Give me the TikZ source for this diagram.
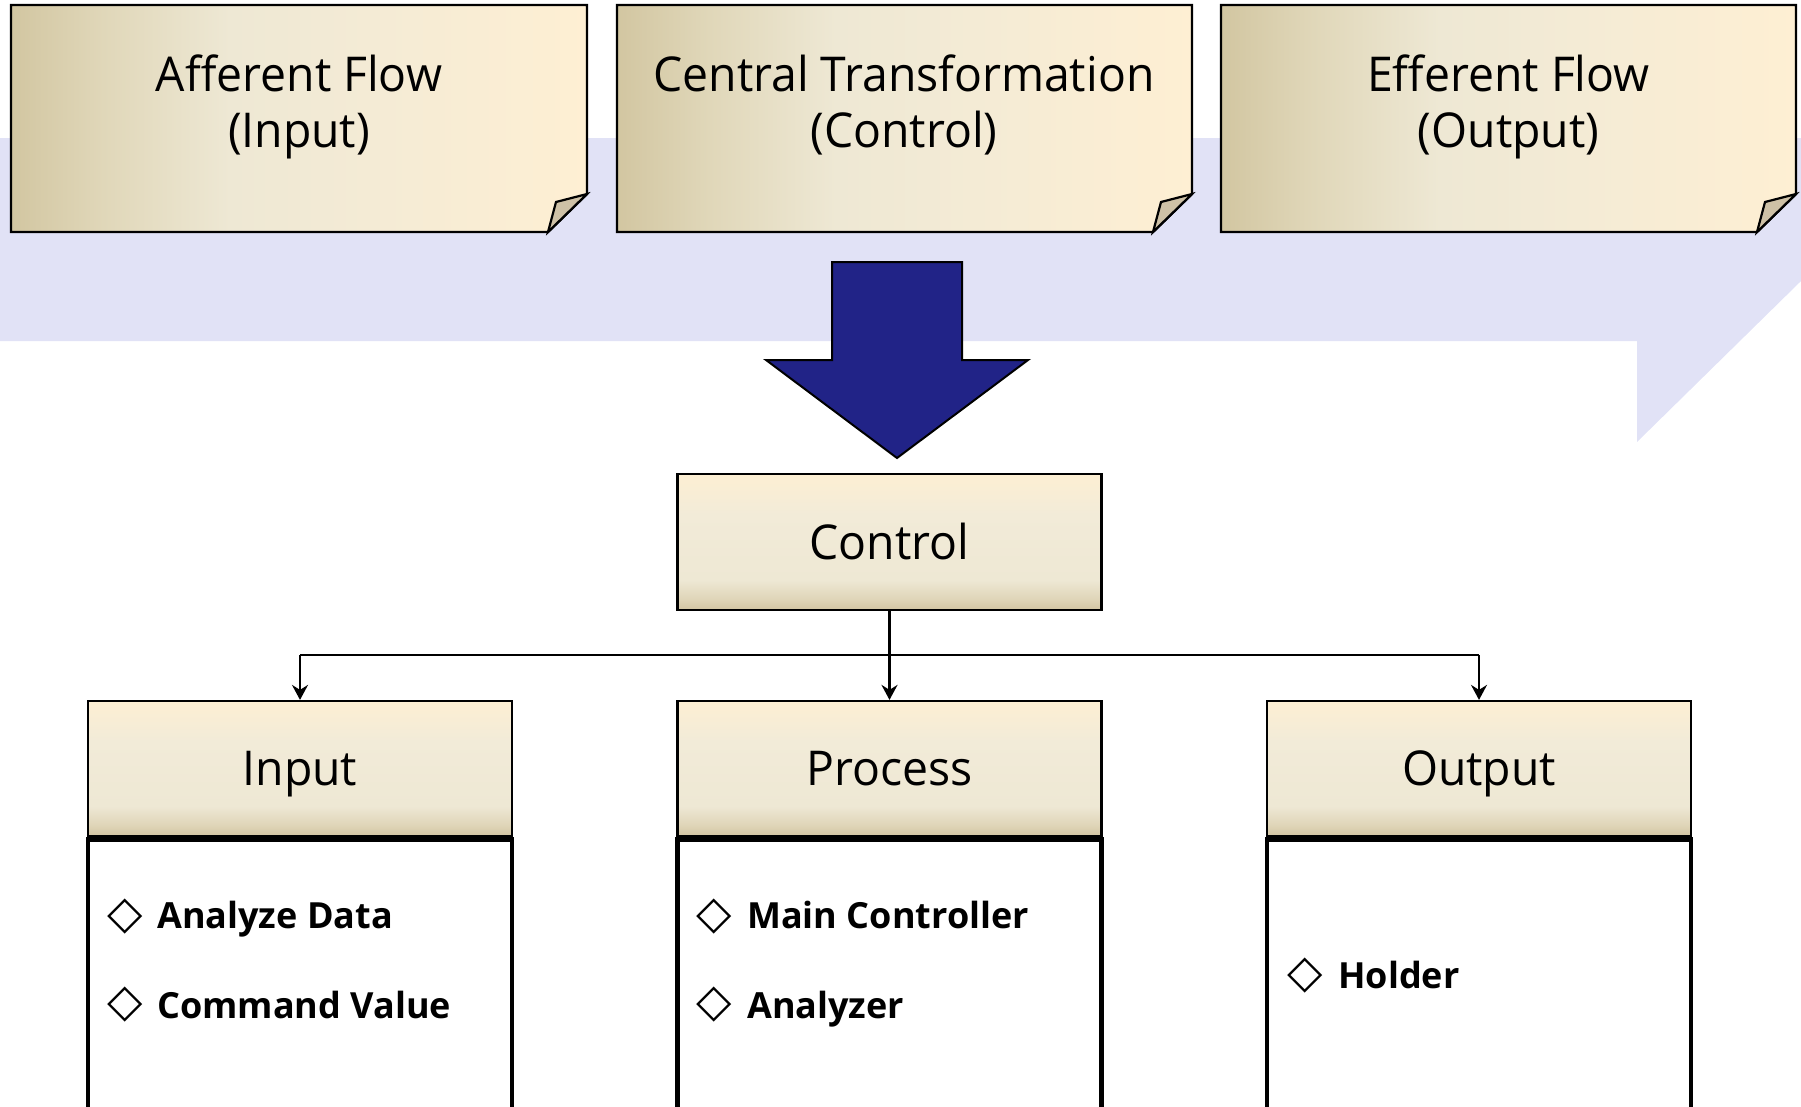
\documentclass[tikz,border=0pt]{standalone}
\usepackage{fontspec}
\setmainfont{Open Sans}
\newfontfamily\bigfam{Open Sans}[FakeStretch=0.965]
\newfontfamily\symfont{DejaVu Sans}
\usetikzlibrary{arrows.meta}
\definecolor{bandc}{RGB}{225,226,246}
\definecolor{navyc}{RGB}{33,35,135}
\definecolor{foldc}{RGB}{206,193,166}
\definecolor{pA}{RGB}{210,198,161}
\definecolor{pB}{RGB}{224,215,185}
\definecolor{pC}{RGB}{238,232,212}
\definecolor{pD}{RGB}{244,235,213}
\definecolor{pE}{RGB}{254,239,211}
\definecolor{hA}{RGB}{210,197,162}
\definecolor{hB}{RGB}{223,213,184}
\definecolor{hC}{RGB}{238,232,212}
\definecolor{hD}{RGB}{242,235,216}
\definecolor{hE}{RGB}{253,239,211}
\pgfdeclarehorizontalshading{papershade}{100bp}{color(0bp)=(pA); color(25bp)=(pA); color(33bp)=(pB); color(44bp)=(pC); color(56bp)=(pD); color(75bp)=(pE); color(100bp)=(pE)}
\pgfdeclareverticalshading{hdrshade}{100bp}{color(0bp)=(hA); color(25bp)=(hA); color(29bp)=(hB); color(36bp)=(hC); color(60bp)=(hD); color(75bp)=(hE); color(100bp)=(hE)}
\newcommand\bigtxt{\bigfam\fontsize{48}{57}\selectfont}
\newcommand\itemfont{\fontsize{36}{43}\selectfont\bfseries}
\begin{document}
\begin{tikzpicture}[x=1pt,y=-1pt,
  bandfill/.style={fill=bandc},
  paperbox/.style={shade,shading=papershade,draw=black,line width=2.4pt,line join=miter},
  foldtri/.style={fill=foldc,draw=black,line width=2.2pt,line join=miter},
  bigarr/.style={fill=navyc,draw=black,line width=2pt,line join=miter},
  papertxt/.style={font=\bigtxt,anchor=base,inner sep=0pt},
  hdrbox/.style={shade,shading=hdrshade,draw=black,line width=2.2pt,font=\bigtxt,
    minimum width=424pt,minimum height=135pt,text height=34pt,text depth=0pt,inner sep=0pt},
  bodybox/.style={draw=black,line width=4.5pt,fill=white,minimum width=424pt,minimum height=320pt,anchor=north,inner sep=0pt},
  conn/.style={draw=black,line width=2.4pt,-{Stealth[length=15pt,width=16pt,inset=5pt]}},
  busline/.style={draw=black,line width=2.4pt},
  itemtxt/.style={font=\itemfont,anchor=base west,inner sep=0pt},
  diam/.style={font=\symfont\fontsize{46}{46}\selectfont,inner sep=0pt,anchor=center}
]
\useasboundingbox (0,0) rectangle (1801,1106);
\clip (0,0) rectangle (1801,1106);
% background band arrow
\path[bandfill] (0,138) -- (1801,138) -- (1801,281) -- (1637,442) -- (1637,341) -- (0,341) -- cycle;
% top paper boxes
\path[paperbox] (11,5) -- (587,5) -- (587,194) -- (548,232) -- (11,232) -- cycle;
\path[foldtri] (587,194) -- (556,202) -- (548,232) -- cycle;
\path[paperbox] (617,5) -- (1192,5) -- (1192,194) -- (1153,232) -- (617,232) -- cycle;
\path[foldtri] (1192,194) -- (1161,202) -- (1153,232) -- cycle;
\path[paperbox] (1221,5) -- (1796,5) -- (1796,194) -- (1757,232) -- (1221,232) -- cycle;
\path[foldtri] (1796,194) -- (1765,202) -- (1757,232) -- cycle;
\node[papertxt] (af1) at (299,91) {Afferent Flow};
\node[papertxt] (af2) at (299,147.5) {(Input)};
\node[papertxt] (ct1) at (904,91) {Central Transformation};
\node[papertxt] (ct2) at (904,147.5) {(Control)};
\node[papertxt] (ef1) at (1508.5,91) {Efferent Flow};
\node[papertxt] (ef2) at (1508.5,147.5) {(Output)};
% big arrow
\path[bigarr] (832,262) -- (962,262) -- (962,360) -- (1028,360) -- (897,458) -- (766,360) -- (832,360) -- cycle;
% control
\node[hdrbox,minimum height=136pt] (ctrl) at (889.5,542) {Control};
% headers
\node[hdrbox] (hin) at (300,768.5) {Input};
\node[hdrbox] (hpr) at (889.5,768.5) {Process};
\node[hdrbox] (hout) at (1479,768.5) {Output};
% bodies
\node[bodybox] (bin) at (hin.south) {};
\node[bodybox] (bpr) at (hpr.south) {};
\node[bodybox] (bout) at (hout.south) {};
% connectors
\coordinate (busL) at (hin.north |- 0,655);
\coordinate (busR) at (hout.north |- 0,655);
\path[busline] (busL) -- (busR);
\path[conn] (busL) -- (hin.north);
\path[conn] (busR) -- (hout.north);
\path[conn] (ctrl.south) -- (hpr.north);
% items
\node[diam] (d1) at (125.5,916.5) {◇};
\node[itemtxt] (t1) at (157,928) {Analyze Data};
\node[diam] (d2) at (125.5,1005) {◇};
\node[itemtxt] (t2) at (157,1018) {Command Value};
\node[diam] (d3) at (714.5,916.5) {◇};
\node[itemtxt] (t3) at (747,928) {Main Controller};
\node[diam] (d4) at (714.5,1005) {◇};
\node[itemtxt] (t4) at (747,1018) {Analyzer};
\node[diam] (d5) at (1305.5,976) {◇};
\node[itemtxt] (t5) at (1338,988) {Holder};
\end{tikzpicture}
\end{document}
